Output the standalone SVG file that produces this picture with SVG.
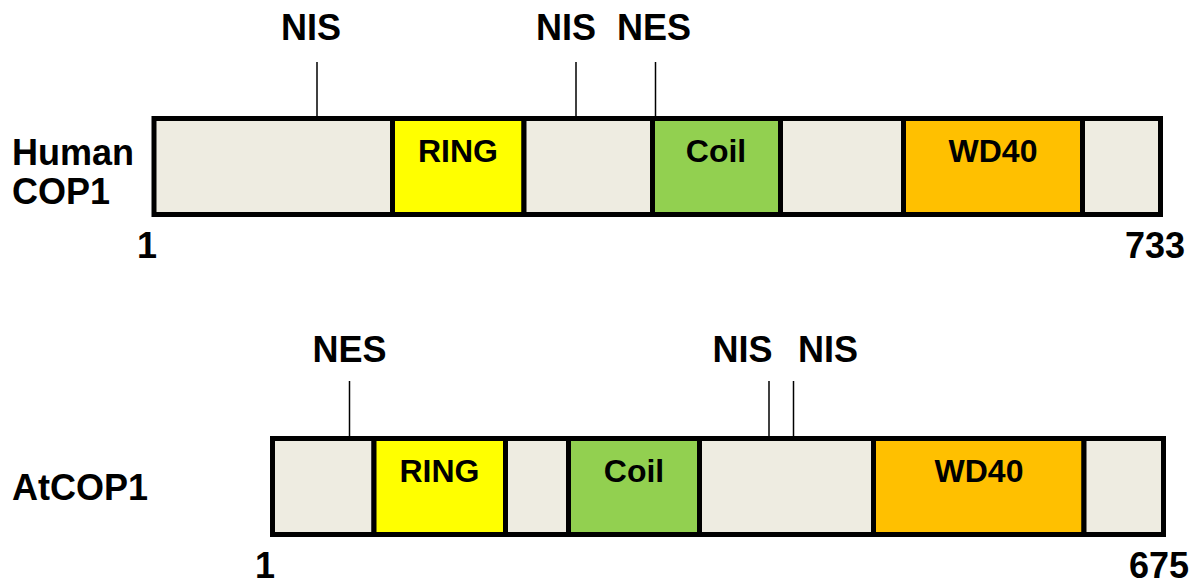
<svg xmlns="http://www.w3.org/2000/svg" width="1203" height="586" viewBox="0 0 1203 586">
<style>
.seg{stroke:#000;stroke-width:5}
.bg{fill:#EEECE1}
.ring{fill:#FFFF00}
.coil{fill:#92D050}
.wd{fill:#FFC000}
.t{font-family:"Liberation Sans",Arial,sans-serif;font-weight:bold;fill:#000}
.lab{font-size:36px}
.dom{font-size:32px;text-anchor:middle}
.tick{stroke:#000;stroke-width:1.5}
</style>
<rect width="1203" height="586" fill="#fff"/>
<!-- Human COP1 -->
<g id="human">
  <text class="t lab" x="12" y="165">Human</text>
  <text class="t lab" x="12" y="204">COP1</text>
  <g id="h-seg1"><rect class="seg bg" x="154" y="118.5" width="238.5" height="96"/></g>
  <g id="h-ring"><rect class="seg ring" x="392.5" y="118.5" width="131.5" height="96"/><text class="t dom" x="458" y="162">RING</text></g>
  <g id="h-seg2"><rect class="seg bg" x="524" y="118.5" width="128.5" height="96"/></g>
  <g id="h-coil"><rect class="seg coil" x="652.5" y="118.5" width="128" height="96"/><text class="t dom" x="716" y="162">Coil</text></g>
  <g id="h-seg3"><rect class="seg bg" x="780.5" y="118.5" width="123" height="96"/></g>
  <g id="h-wd40"><rect class="seg wd" x="903.5" y="118.5" width="179" height="96"/><text class="t dom" x="993" y="162">WD40</text></g>
  <g id="h-seg4"><rect class="seg bg" x="1082.5" y="118.5" width="78" height="96"/></g>
  <text class="t lab" x="147" y="258" text-anchor="middle">1</text>
  <text class="t lab" x="1185" y="258" text-anchor="end">733</text>
  <text class="t lab" x="311" y="40" text-anchor="middle">NIS</text>
  <text class="t lab" x="566" y="40" text-anchor="middle">NIS</text>
  <text class="t lab" x="654" y="40" text-anchor="middle">NES</text>
</g>
<!-- AtCOP1 -->
<g id="at">
  <text class="t lab" x="12" y="500">AtCOP1</text>
  <g id="a-seg1"><rect class="seg bg" x="272.5" y="438.5" width="101.5" height="96"/></g>
  <g id="a-ring"><rect class="seg ring" x="374" y="438.5" width="131.5" height="96"/><text class="t dom" x="439.5" y="482">RING</text></g>
  <g id="a-seg2"><rect class="seg bg" x="505.5" y="438.5" width="63" height="96"/></g>
  <g id="a-coil"><rect class="seg coil" x="568.5" y="438.5" width="131" height="96"/><text class="t dom" x="634" y="482">Coil</text></g>
  <g id="a-seg3"><rect class="seg bg" x="699.5" y="438.5" width="174" height="96"/></g>
  <g id="a-wd40"><rect class="seg wd" x="873.5" y="438.5" width="210.5" height="96"/><text class="t dom" x="979" y="482">WD40</text></g>
  <g id="a-seg4"><rect class="seg bg" x="1084" y="438.5" width="79.5" height="96"/></g>
  <text class="t lab" x="265" y="578" text-anchor="middle">1</text>
  <text class="t lab" x="1189" y="578" text-anchor="end">675</text>
  <text class="t lab" x="349.5" y="362" text-anchor="middle">NES</text>
  <text class="t lab" x="742.5" y="362" text-anchor="middle">NIS</text>
  <text class="t lab" x="828" y="362" text-anchor="middle">NIS</text>
</g>
<g id="connectors">
  <line class="tick" x1="317" y1="62" x2="317" y2="116"/>
  <line class="tick" x1="576" y1="62" x2="576" y2="116"/>
  <line class="tick" x1="655.5" y1="62" x2="655.5" y2="116"/>
  <line class="tick" x1="349.5" y1="381" x2="349.5" y2="436"/>
  <line class="tick" x1="769" y1="381" x2="769" y2="436"/>
  <line class="tick" x1="793.5" y1="381" x2="793.5" y2="436"/>
</g>
</svg>
